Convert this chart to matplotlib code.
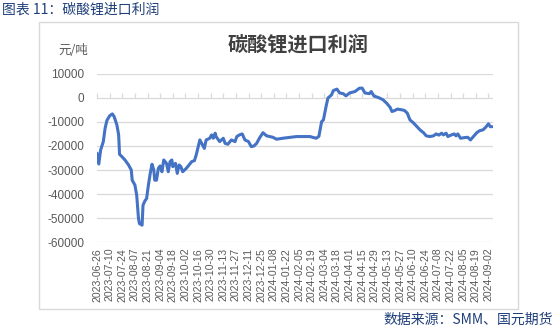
import matplotlib
matplotlib.use("Agg")
import matplotlib.pyplot as plt
import pandas as pd

plt.rcParams['font.family'] = ['Noto Sans CJK SC', 'DejaVu Sans']

dates = [
    "2023-06-26", "2023-06-28", "2023-06-30", "2023-07-03", "2023-07-05", "2023-07-07",
    "2023-07-10", "2023-07-13", "2023-07-15", "2023-07-18", "2023-07-20", "2023-07-21",
    "2023-07-23", "2023-07-27", "2023-07-31", "2023-08-03", "2023-08-04", "2023-08-07",
    "2023-08-09", "2023-08-11", "2023-08-12", "2023-08-15", "2023-08-16", "2023-08-18",
    "2023-08-20", "2023-08-22", "2023-08-24", "2023-08-26", "2023-08-28", "2023-08-29",
    "2023-08-31", "2023-09-02", "2023-09-04", "2023-09-06", "2023-09-08", "2023-09-11",
    "2023-09-13", "2023-09-15", "2023-09-17", "2023-09-18", "2023-09-21", "2023-09-23",
    "2023-09-25", "2023-09-27", "2023-09-29", "2023-10-03", "2023-10-09", "2023-10-12",
    "2023-10-14", "2023-10-18", "2023-10-20", "2023-10-23", "2023-10-25", "2023-10-29",
    "2023-10-31", "2023-11-02", "2023-11-04", "2023-11-05", "2023-11-09", "2023-11-13",
    "2023-11-15", "2023-11-18", "2023-11-22", "2023-11-26", "2023-11-28", "2023-12-01",
    "2023-12-04", "2023-12-07", "2023-12-11", "2023-12-14", "2023-12-17", "2023-12-20",
    "2023-12-23", "2023-12-27", "2023-12-31", "2024-01-07", "2024-01-11", "2024-01-18",
    "2024-02-02", "2024-02-17", "2024-02-24", "2024-02-27", "2024-03-01", "2024-03-03",
    "2024-03-06", "2024-03-08", "2024-03-12", "2024-03-14", "2024-03-18", "2024-03-21",
    "2024-03-25", "2024-03-28", "2024-04-01", "2024-04-07", "2024-04-12", "2024-04-15",
    "2024-04-18", "2024-04-23", "2024-04-25", "2024-04-28", "2024-05-03", "2024-05-08",
    "2024-05-12", "2024-05-16", "2024-05-18", "2024-05-21", "2024-05-24", "2024-05-29",
    "2024-06-01", "2024-06-04", "2024-06-07", "2024-06-11", "2024-06-14", "2024-06-18",
    "2024-06-22", "2024-06-25", "2024-06-29", "2024-07-03", "2024-07-06", "2024-07-09",
    "2024-07-12", "2024-07-14", "2024-07-17", "2024-07-19", "2024-07-23", "2024-07-26",
    "2024-07-28", "2024-07-30", "2024-08-02", "2024-08-07", "2024-08-10", "2024-08-13",
    "2024-08-17", "2024-08-20", "2024-08-23", "2024-08-27", "2024-08-30", "2024-09-02",
    "2024-09-04", "2024-09-06",
]

profit = [
    -23000, -27500, -21700, -18200, -12600, -9400,
    -7500, -6700, -7800, -11200, -15400, -23500,
    -24200, -25800, -27900, -30000, -34200, -36200,
    -40400, -50100, -52200, -52900, -44600, -42900,
    -41800, -36200, -31400, -27600, -30000, -34200,
    -34200, -29300, -28300, -30700, -25800, -27200,
    -30700, -26500, -25800, -28600, -27200, -31400,
    -27900, -28600, -30700, -29300, -26500, -26100,
    -23700, -17500, -18900, -21000, -17500, -16800,
    -15400, -16800, -14700, -16100, -18200, -16800,
    -18900, -19300, -17500, -18200, -16100, -15400,
    -15000, -17500, -18200, -20300, -20000, -18900,
    -16800, -14500, -15800, -16400, -17200, -16800,
    -16100, -16100, -16800, -16000, -9900, -9200,
    -3500, -100, 1200, 3000, 3600, 2000,
    1700, 800, 2000, 2600, 4000, 4000,
    2000, 1700, 2600, 700, 100, -800,
    -2200, -4000, -5700, -5300, -4700, -5000,
    -5300, -6400, -9200, -10500, -11700, -13300,
    -14500, -15800, -16100, -15800, -15000, -15500,
    -14700, -15400, -14700, -16100, -15400, -15000,
    -15800, -15000, -16800, -16500, -16400, -17500,
    -15800, -14500, -13700, -13300, -12200, -10800,
    -12000, -12000,
]

tick_dates = pd.date_range("2023-06-26", "2024-09-02", freq="14D")
tick_labels = [d.strftime("%Y-%m-%d") for d in tick_dates]
y_ticks = [10000, 0, -10000, -20000, -30000, -40000, -50000, -60000]

page_title = "图表 11：碳酸锂进口利润"
chart_title = "碳酸锂进口利润"
unit_label = "元/吨"
source_text = "数据来源：SMM、国元期货"

W, H = 559, 331
fig = plt.figure(figsize=(W / 100, H / 100), dpi=100)
fig.patch.set_facecolor("white")

navy = "#1F3F7A"
grid_c = "#D9D9D9"
text_c = "#595959"

frame = plt.Rectangle((39 / W, 1 - 309 / H), (518 - 39) / W, (309 - 22) / H,
                      transform=fig.transFigure, fill=False, edgecolor=grid_c, linewidth=1.0)
fig.add_artist(frame)

fig.text(2 / W, 1 - 10 / H, page_title, fontsize=10, color=navy, ha="left", va="center")
fig.text(553 / W, 1 - 320 / H, source_text, fontsize=10, color=navy, ha="right", va="center")

left, right, top, bottom = 97, 493, 73.7, 242.3
ax = fig.add_axes([left / W, 1 - bottom / H, (right - left) / W, (bottom - top) / H])

x = pd.to_datetime(dates)
ax.plot(x, profit, color="#4472C4", linewidth=2.2, solid_joinstyle="round", solid_capstyle="round")

ax.set_ylim(-60000, 10000)
ax.set_xlim(pd.Timestamp("2023-06-26"), pd.Timestamp("2024-09-07"))
ax.set_yticks(y_ticks)
ax.set_yticklabels([str(v) for v in y_ticks], fontfamily="Liberation Sans", fontsize=8.5, color=text_c)
ax.yaxis.grid(True, color=grid_c, linewidth=0.9)
ax.set_axisbelow(True)
ax.tick_params(axis="y", length=0, pad=9)

ax.set_xticks(tick_dates)
ax.set_xticklabels(tick_labels, rotation=90, fontfamily="Liberation Sans", fontsize=7.6,
                   color=text_c, va="top", ha="center")
ax.tick_params(axis="x", length=0, pad=4)

for s in ax.spines.values():
    s.set_visible(False)

ymin, ymax = ax.get_ylim()
sec = ax.secondary_xaxis((0 - ymin) / (ymax - ymin))
sec.set_xticks(tick_dates)
sec.set_xticklabels([])
sec.tick_params(axis="x", direction="out", length=3.5, color=grid_c, width=0.9)
sec.spines["bottom"].set_color(grid_c)
sec.spines["bottom"].set_linewidth(0.9)
for k in ("top", "left", "right"):
    if k in sec.spines:
        sec.spines[k].set_visible(False)

fig.text(298 / W, 1 - 44 / H, chart_title, fontsize=14.5, fontweight="bold", color="#404040",
         ha="center", va="center")
fig.text(88 / W, 1 - 51 / H, unit_label, fontsize=9, color=text_c, ha="right", va="center")

fig.savefig("out.png", dpi=100, facecolor="white")
